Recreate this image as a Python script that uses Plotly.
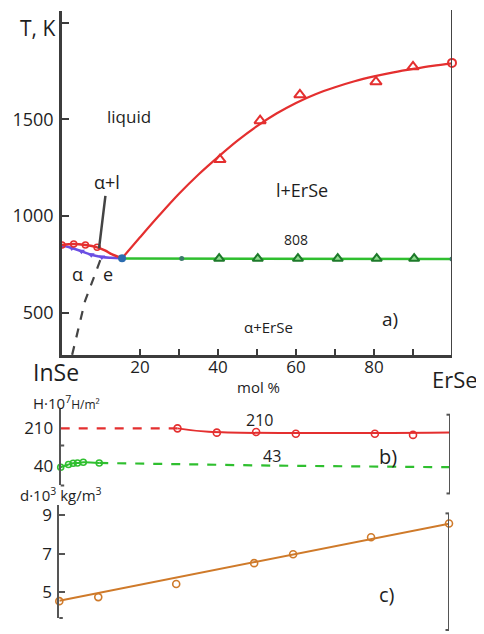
import plotly.graph_objects as go

# page body has an 8px margin, so the figure is drawn 8px in from the corner
OFF = 8
W, H = 484 - OFF, 634 - OFF

# ---------------- data: panel a) phase diagram (T, K vs mol % ErSe) --------
liq_x = [15.4, 20, 25, 30, 35, 40, 45, 50, 55, 60, 65, 70, 75, 80, 85, 90, 95, 100]
liq_T = [782, 890, 1005, 1115, 1215, 1305, 1390, 1465, 1530, 1585, 1630, 1666, 1697, 1722, 1743, 1761, 1777, 1790]
liq_pts_x = [40.5, 50.8, 61, 80.5, 90]
liq_pts_T = [1292, 1493, 1627, 1694, 1772]
erse_melt_x = [100]
erse_melt_T = [1792]

red_left_x = [0, 3, 6, 9, 11, 13, 15.4]
red_left_T = [850, 855, 850, 838, 822, 800, 782]
red_left_pts_x = [0, 3, 6, 9]
red_left_pts_T = [850, 855, 850, 838]

alpha_x = [0, 2.5, 5, 7.5, 10.2, 12.5, 15.4]
alpha_T = [848, 835, 818, 800, 788, 784, 782]
alpha_pts_x = [0, 2.5, 5, 7.5, 10.2]
alpha_pts_T = [848, 835, 818, 800, 788]

eut_x = [15.4]
eut_T = [782]

sol_x = [15.4, 100]
sol_T = [780, 778]
sol_pts_x = [40.3, 50.2, 60.5, 70.7, 80.7, 90.3]
sol_pts_T = [780, 780, 780, 780, 780, 780]
sol_small_x = [30.7, 100]
sol_small_T = [780, 778]

solvus_x = [2.6, 5.9, 10]
solvus_T = [282, 560, 782]

# ---------------- data: panel b) H·10^7 ----------------
Hr_dash_x = [0, 30]
Hr_dash = [210, 210]
Hr_line_x = [30, 38, 100]
Hr_line = [210, 195, 192]
Hr_pts_x = [30, 40.1, 50.2, 60.4, 80.7, 90.5]
Hr_pts = [210, 191, 194, 186, 186, 181]

Hg_pts_x = [0, 2, 3.2, 4.3, 5.8, 9.9]
Hg_pts = [37, 49, 55, 56, 59, 56]
Hg_dash_x = [9.9, 55, 100]
Hg_dash = [56, 44, 37]

# ---------------- data: panel c) density ----------------
d_line_x = [0, 100]
d_line = [4.55, 8.57]
d_pts_x = [0, 10, 30, 50, 60, 80, 100]
d_pts = [4.53, 4.74, 5.42, 6.51, 6.97, 7.86, 8.58]

# ---------------- tick labels ----------------
xa_tickvals = [20, 30, 40, 50, 60, 70, 80, 90]
xa_ticktext = ["20", "", "40", "", "60", "", "80", ""]
ya_tickvals = [500, 1000, 1500, 2000]
ya_ticktext = ["500", "1000", "1500", ""]
yb_tickvals = [40, 210]
yb_ticktext = ["40", "210"]
yc_tickvals = [5, 7, 9]
yc_ticktext = ["5", "7", "9"]

RED = "#e42f2f"
GREEN = "#2fbf2f"
DGREEN = "#1d7a2a"
PURPLE = "#6b4fe3"
BLUE = "#2b6cb0"
ORANGE = "#cf7a2a"
AX = "#3c3c3c"
TXT = "#1e1e1e"
FONT = "Open Sans"

fig = go.Figure()

# ---- panel a ----
fig.add_trace(go.Scatter(x=solvus_x, y=solvus_T, mode="lines",
                         line=dict(color="#444", width=2.2, dash="dash"),
                         xaxis="x", yaxis="y"))
fig.add_trace(go.Scatter(x=alpha_x, y=alpha_T, mode="lines", line=dict(color=PURPLE, width=2.5, shape="spline"),
                         xaxis="x", yaxis="y"))
fig.add_trace(go.Scatter(x=alpha_pts_x, y=alpha_pts_T, mode="markers",
                         marker=dict(symbol="triangle-down", size=6, color=PURPLE),
                         xaxis="x", yaxis="y"))
fig.add_trace(go.Scatter(x=red_left_x, y=red_left_T, mode="lines", line=dict(color=RED, width=2.5, shape="spline"),
                         xaxis="x", yaxis="y"))
fig.add_trace(go.Scatter(x=red_left_pts_x, y=red_left_pts_T, mode="markers",
                         marker=dict(symbol="circle-open", size=6, color=RED, line=dict(width=1.5)),
                         xaxis="x", yaxis="y"))
fig.add_trace(go.Scatter(x=sol_x, y=sol_T, mode="lines", line=dict(color=GREEN, width=2.5),
                         xaxis="x", yaxis="y"))
fig.add_trace(go.Scatter(x=sol_pts_x, y=sol_pts_T, mode="markers",
                         marker=dict(symbol="triangle-up", size=9, color="#8fdc8f",
                                     line=dict(color=DGREEN, width=2)),
                         xaxis="x", yaxis="y"))
fig.add_trace(go.Scatter(x=sol_small_x, y=sol_small_T, mode="markers",
                         marker=dict(symbol="circle", size=5, color="#3c7a6a"),
                         xaxis="x", yaxis="y"))
fig.add_trace(go.Scatter(x=liq_x, y=liq_T, mode="lines", line=dict(color=RED, width=2.2, shape="spline"),
                         xaxis="x", yaxis="y"))
fig.add_trace(go.Scatter(x=liq_pts_x, y=liq_pts_T, mode="markers",
                         marker=dict(symbol="triangle-up-open", size=10, color=RED, line=dict(width=2)),
                         xaxis="x", yaxis="y"))
fig.add_trace(go.Scatter(x=erse_melt_x, y=erse_melt_T, mode="markers",
                         marker=dict(symbol="circle-open", size=8, color=RED, line=dict(width=2)),
                         cliponaxis=False, xaxis="x", yaxis="y"))
fig.add_trace(go.Scatter(x=eut_x, y=eut_T, mode="markers",
                         marker=dict(symbol="circle", size=8, color=BLUE),
                         xaxis="x", yaxis="y"))

# ---- panel b ----
fig.add_trace(go.Scatter(x=Hr_dash_x, y=Hr_dash, mode="lines", line=dict(color=RED, width=2.2, dash="dash"),
                         xaxis="x2", yaxis="y2"))
fig.add_trace(go.Scatter(x=Hr_line_x, y=Hr_line, mode="lines", line=dict(color=RED, width=2, shape="spline"),
                         xaxis="x2", yaxis="y2"))
fig.add_trace(go.Scatter(x=Hr_pts_x, y=Hr_pts, mode="markers",
                         marker=dict(symbol="circle-open", size=7, color=RED, line=dict(width=1.6)),
                         xaxis="x2", yaxis="y2"))
fig.add_trace(go.Scatter(x=Hg_dash_x, y=Hg_dash, mode="lines", line=dict(color=GREEN, width=2.2, dash="dash"),
                         xaxis="x2", yaxis="y2"))
fig.add_trace(go.Scatter(x=Hg_pts_x, y=Hg_pts, mode="lines+markers", line=dict(color=GREEN, width=2, shape="spline"),
                         marker=dict(symbol="circle-open", size=6, color=GREEN, line=dict(width=1.6)),
                         cliponaxis=False, xaxis="x2", yaxis="y2"))

# ---- panel c ----
fig.add_trace(go.Scatter(x=d_line_x, y=d_line, mode="lines", line=dict(color=ORANGE, width=2),
                         xaxis="x3", yaxis="y3"))
fig.add_trace(go.Scatter(x=d_pts_x, y=d_pts, mode="markers",
                         marker=dict(symbol="circle-open", size=7, color=ORANGE, line=dict(width=1.6)),
                         cliponaxis=False, xaxis="x3", yaxis="y3"))


def py(y):
    return 1 - (y - OFF) / H


def px(x):
    return (x - OFF) / W


def txt(x, y, s, size, **kw):
    d = dict(x=px(x), y=py(y), xref="paper", yref="paper", text=s, showarrow=False,
             font=dict(family=FONT, size=size, color=TXT), xanchor="center", yanchor="middle")
    d.update(kw)
    return d


annotations = [
    txt(37, 26, "T, K", 21),
    txt(129, 115, "liquid", 17),
    txt(302, 189, "l+ErSe", 18),
    txt(296, 238, "808", 14),
    txt(77, 273, "α", 18),
    txt(108, 273, "e", 18),
    txt(268, 326, "α+ErSe", 15),
    txt(390, 318, "a)", 19),
    txt(56, 371, "InSe", 23),
    txt(455, 378, "ErSe", 22),
    txt(258, 386, "mol %", 15),
    txt(66, 402, "H·10<sup>7</sup><span style='font-size:12px'>H/m²</span>", 15),
    txt(259, 419, "210", 16),
    txt(272, 455, "43", 16),
    txt(388, 456, "b)", 20),
    txt(61, 494, "d·10<sup>3</sup> kg/m<sup>3</sup>", 15),
    txt(387, 594, "c)", 20),
    dict(x=9.5, y=833, xref="x", yref="y", text="α+l", showarrow=True, arrowhead=0,
         arrowwidth=2.5, arrowcolor="#444", ax=8, ay=-66, standoff=0,
         font=dict(family=FONT, size=18, color=TXT)),
]


def vline(xref, yt, yb, w=2, color="#555"):
    return dict(type="line", xref=xref, yref="paper", x0=100, x1=100, y0=py(yt), y1=py(yb),
                line=dict(color=color, width=w))


def cap(xref, xv, y, color="#555"):
    return dict(type="line", xref=xref, yref="paper", x0=xv - 0.9, x1=xv + 0.9, y0=py(y), y1=py(y),
                line=dict(color=color, width=2))


shapes = [
    vline("x", OFF, 354, w=2, color="#444"),
    vline("x2", 414, 493),
    cap("x2", 100, 414), cap("x2", 100, 493),
    vline("x3", 513, 630),
    cap("x3", 100, 513), cap("x3", 100, 630),
    cap("x2", 0, 485),
    cap("x3", 0, 618),
    cap("x2", 0, 445),
]

axis_common = dict(showgrid=False, zeroline=False, showline=True)

fig.update_layout(
    width=W, height=H, margin=dict(l=0, r=0, t=0, b=0),
    paper_bgcolor="white", plot_bgcolor="rgba(0,0,0,0)",
    showlegend=False,
    font=dict(family=FONT, color=TXT),
    annotations=annotations, shapes=shapes,
    xaxis=dict(domain=[px(62), px(452)], range=[0, 100], anchor="y", **axis_common,
               linecolor=AX, linewidth=2.5, ticks="inside", ticklen=6, tickwidth=2, tickcolor=AX,
               tickvals=xa_tickvals, ticktext=xa_ticktext, ticklabelstandoff=-5,
               tickfont=dict(family=FONT, size=17, color=TXT)),
    yaxis=dict(domain=[py(354), py(9)], range=[281.9, 2060.4], anchor="x", **axis_common,
               linecolor=AX, linewidth=2.5, ticks="inside", ticklen=7, tickwidth=2, tickcolor=AX,
               tickvals=ya_tickvals, ticktext=ya_ticktext, ticklabelstandoff=2,
               tickfont=dict(family=FONT, size=18, color=TXT)),
    xaxis2=dict(domain=[px(60.7), px(450)], range=[0, 100], anchor="y2", visible=False),
    yaxis2=dict(domain=[py(485), py(408)], range=[-44.3, 297.5], anchor="x2", **axis_common,
                linecolor="#555", linewidth=2, ticks="", tickvals=yb_tickvals, ticktext=yb_ticktext,
                ticklabelstandoff=2, tickfont=dict(family=FONT, size=17, color=TXT)),
    xaxis3=dict(domain=[px(59.3), px(449)], range=[0, 100], anchor="y3", visible=False),
    yaxis3=dict(domain=[py(618), py(505)], range=[3.649, 9.519], anchor="x3", **axis_common,
                linecolor="#555", linewidth=2, ticks="inside", ticklen=6, tickwidth=2, tickcolor="#555",
                tickvals=yc_tickvals, ticktext=yc_ticktext, ticklabelstandoff=2,
                tickfont=dict(family=FONT, size=17, color=TXT)),
)

fig.write_html("out.html")
